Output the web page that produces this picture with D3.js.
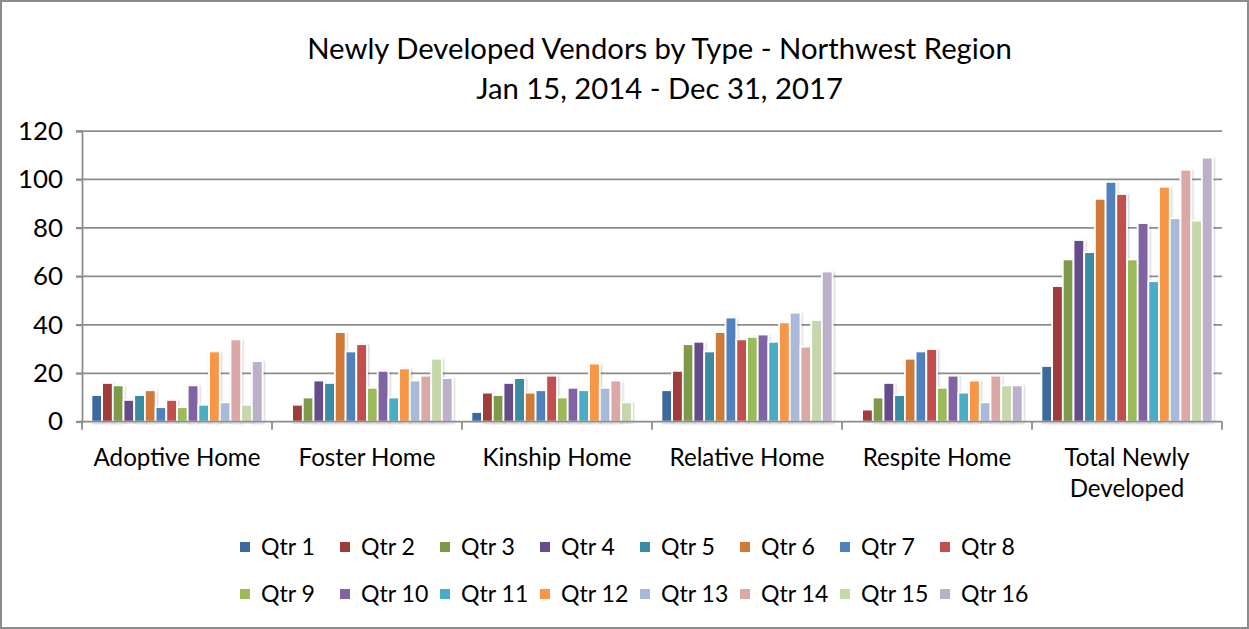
<!DOCTYPE html>
<html><head><meta charset="utf-8">
<script src="https://cdn.jsdelivr.net/npm/d3@7"></script>
<style>body{margin:0;background:#fff}svg{display:block;font-family:Lato,"Open Sans",sans-serif}</style>
</head><body>
<svg id="c" width="1249" height="629"></svg>
<script>
const categories = ["Adoptive Home","Foster Home","Kinship Home","Relative Home","Respite Home","Total Newly Developed"];
const quarters = ["Qtr 1","Qtr 2","Qtr 3","Qtr 4","Qtr 5","Qtr 6","Qtr 7","Qtr 8","Qtr 9","Qtr 10","Qtr 11","Qtr 12","Qtr 13","Qtr 14","Qtr 15","Qtr 16"];
const adoptiveHome = [11,16,15,9,11,13,6,9,6,15,7,29,8,34,7,25];
const fosterHome   = [0,7,10,17,16,37,29,32,14,21,10,22,17,19,26,18];
const kinshipHome  = [4,12,11,16,18,12,13,19,10,14,13,24,14,17,8,0];
const relativeHome = [13,21,32,33,29,37,43,34,35,36,33,41,45,31,42,62];
const respiteHome  = [0,5,10,16,11,26,29,30,14,19,12,17,8,19,15,15];
const totalNewly   = [23,56,67,75,70,92,99,94,67,82,58,97,84,104,83,109];
const yTicks = [0,20,40,60,80,100,120];
const titleLines = ["Newly Developed Vendors by Type - Northwest Region","Jan 15, 2014 - Dec 31, 2017"];
const colors = ["#3E6A9E","#9E3C3A","#7D9948","#664E8A","#3A8CA2","#CF7A37","#4F81BD","#C0504D","#9BBB59","#8064A2","#4BACC6","#F79646","#A8B9D9","#DAA8A7","#C6D7AB","#BAB0CA"];

const seriesByCategory = [adoptiveHome,fosterHome,kinshipHome,relativeHome,respiteHome,totalNewly];

const svg = d3.select("#c");
const W = 1249, H = 629;

// fit helper: font size so text reaches target width
function fitSize(str, target, base) {
  const t = svg.append("text").attr("font-size", base).text(str);
  const w = t.node().getComputedTextLength();
  t.remove();
  return base * target / w;
}

svg.append("rect").attr("x",1).attr("y",1).attr("width",W-2).attr("height",H-2)
  .attr("fill","#fff").attr("stroke","#8c8c8c").attr("stroke-width",2);

const defs = svg.append("defs");
const f = defs.append("filter").attr("id","sh").attr("x","-30%").attr("y","-10%").attr("width","160%").attr("height","120%");
f.append("feDropShadow").attr("dx",1).attr("dy",1).attr("stdDeviation",1.3).attr("flood-color","#000").attr("flood-opacity",0.22);

const plotL = 82, plotR = 1222, plotT = 131, plotB = 421.7;

const y = d3.scaleLinear().domain([0,120]).range([plotB, plotT]);
const x0 = d3.scaleBand().domain(categories).range([plotL, plotR]).paddingInner(0).paddingOuter(0);
const x1 = d3.scaleBand().domain(quarters).range([0, x0.bandwidth()]).paddingInner(0).paddingOuter(0.88);

// gridlines
svg.append("g").selectAll("line").data(yTicks.filter(d=>d>0)).join("line")
  .attr("x1", plotL-6).attr("x2", plotR).attr("y1", d=>y(d)).attr("y2", d=>y(d))
  .attr("stroke","#8c8c8c").attr("stroke-width",1.75);

// y axis
const yAxis = d3.axisLeft(y).tickValues(yTicks).tickSize(6).tickPadding(13);
const yG = svg.append("g").attr("transform",`translate(${plotL},0)`).call(yAxis);
yG.select(".domain").attr("stroke","#8c8c8c").attr("stroke-width",1.75);
yG.selectAll(".tick line").attr("stroke","#8c8c8c").attr("stroke-width",1.75);
const ySize = fitSize("120", 45, 20);
yG.selectAll(".tick text").attr("font-size", ySize).attr("font-family","Lato").attr("fill","#000");

// bars
const catG = svg.append("g").selectAll("g").data(categories).join("g")
  .attr("transform", d=>`translate(${x0(d)},0)`);
catG.selectAll("rect").data((c,i)=>quarters.map((q,j)=>({q, v: seriesByCategory[i][j], j})))
  .join("rect")
  .attr("x", d=>x1(d.q)).attr("width", x1.bandwidth())
  .attr("y", d=>y(d.v)).attr("height", d=>y(0)-y(d.v))
  .attr("fill", d=>colors[d.j]).attr("stroke","#fff").attr("stroke-width",1.8)
  .attr("filter","url(#sh)")
  .attr("display", d=>d.v>0?null:"none");

// x axis
const xAxis = d3.axisBottom(x0).tickSize(0).tickFormat("");
const xG = svg.append("g").attr("transform",`translate(0,${plotB})`).call(xAxis);
xG.select(".domain").remove();
svg.append("line").attr("x1",plotL-6).attr("x2",plotR).attr("y1",plotB).attr("y2",plotB)
  .attr("stroke","#8c8c8c").attr("stroke-width",1.75);
const bounds = categories.map(c=>x0(c)).concat([x0(categories[categories.length-1])+x0.bandwidth()]);
svg.append("g").selectAll("line").data(bounds).join("line")
  .attr("x1",d=>d).attr("x2",d=>d).attr("y1",plotB).attr("y2",plotB+8)
  .attr("stroke","#8c8c8c").attr("stroke-width",1.75);

const catSize = fitSize("Adoptive Home", 167, 20);
const catLines = c => c === "Total Newly Developed" ? ["Total Newly","Developed"] : [c];
svg.append("g").selectAll("text").data(categories).join("text")
  .attr("x", d=>x0(d)+x0.bandwidth()/2).attr("y", 466)
  .attr("text-anchor","middle").attr("font-size",catSize).attr("fill","#000")
  .each(function(d){
    const t = d3.select(this);
    catLines(d).forEach((l,i)=>t.append("tspan").attr("x", x0(d)+x0.bandwidth()/2).attr("dy", i?31:0).text(l));
  });

// title
const tSize = fitSize(titleLines[0], 705, 26);
svg.append("g").selectAll("text").data(titleLines).join("text")
  .attr("x", 659.5).attr("y",(d,i)=>59+i*39.5).attr("text-anchor","middle")
  .attr("font-size",tSize).attr("fill","#000").text(d=>d);

// legend
const lSize = fitSize("Qtr 1", 54, 20);
const lg = svg.append("g").selectAll("g").data(quarters).join("g")
  .attr("transform",(d,i)=>`translate(${240 + (i%8)*100},${i<8?547:594})`);
lg.append("rect").attr("x",0).attr("y",-5).attr("width",10).attr("height",10).attr("fill",(d,i)=>colors[i]);
lg.append("text").attr("x",21).attr("dy","0.36em").attr("font-size",lSize).attr("fill","#000").text(d=>d);
</script>
</body></html>
